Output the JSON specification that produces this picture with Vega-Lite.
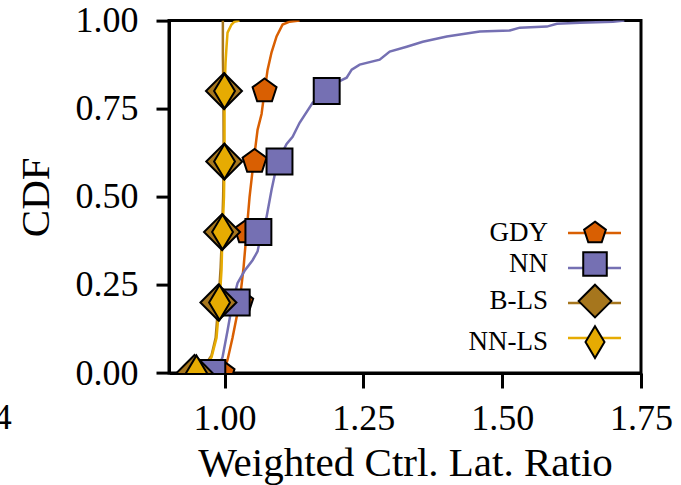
{
  "$schema": "https://vega.github.io/schema/vega-lite/v6.json",
  "width": 472,
  "height": 352.4,
  "autosize": {"type": "none"},
  "padding": {"left": 169, "top": 20.6, "right": 40, "bottom": 112},
  "background": "white",
  "config": {
    "font": "Liberation Serif",
    "view": {"stroke": "black", "strokeWidth": 3},
    "axis": {
      "grid": false,
      "domainColor": "black",
      "domainWidth": 3,
      "tickColor": "black",
      "tickWidth": 3,
      "labelColor": "black",
      "labelFont": "Liberation Serif",
      "labelFontSize": 36,
      "titleFont": "Liberation Serif",
      "titleFontSize": 41,
      "titleFontWeight": "normal",
      "titleColor": "black",
      "labelFlush": false
    },
    "legend": {
      "labelFont": "Liberation Serif",
      "labelColor": "black"
    }
  },
  "layer": [
    {
      "data": {
        "values": [
          {"series": "GDY", "v": 0.9964, "cdf": 0},
          {"series": "GDY", "v": 1.0054, "cdf": 0.037},
          {"series": "GDY", "v": 1.0144, "cdf": 0.10},
          {"series": "GDY", "v": 1.0270, "cdf": 0.20},
          {"series": "GDY", "v": 1.0343, "cdf": 0.30},
          {"series": "GDY", "v": 1.0397, "cdf": 0.40},
          {"series": "GDY", "v": 1.0451, "cdf": 0.50},
          {"series": "GDY", "v": 1.0523, "cdf": 0.60},
          {"series": "GDY", "v": 1.0595, "cdf": 0.69},
          {"series": "GDY", "v": 1.0667, "cdf": 0.735},
          {"series": "GDY", "v": 1.0721, "cdf": 0.80},
          {"series": "GDY", "v": 1.0775, "cdf": 0.86},
          {"series": "GDY", "v": 1.0847, "cdf": 0.91},
          {"series": "GDY", "v": 1.0937, "cdf": 0.955},
          {"series": "GDY", "v": 1.1046, "cdf": 0.989},
          {"series": "GDY", "v": 1.1172, "cdf": 0.997},
          {"series": "GDY", "v": 1.1352, "cdf": 1.0},

          {"series": "NN", "v": 0.978, "cdf": 0},
          {"series": "NN", "v": 0.986, "cdf": 0.01},
          {"series": "NN", "v": 0.991, "cdf": 0.025},
          {"series": "NN", "v": 0.9964, "cdf": 0.045},
          {"series": "NN", "v": 1.0054, "cdf": 0.12},
          {"series": "NN", "v": 1.0144, "cdf": 0.20},
          {"series": "NN", "v": 1.0234, "cdf": 0.255},
          {"series": "NN", "v": 1.0361, "cdf": 0.29},
          {"series": "NN", "v": 1.0505, "cdf": 0.32},
          {"series": "NN", "v": 1.0595, "cdf": 0.345},
          {"series": "NN", "v": 1.0667, "cdf": 0.40},
          {"series": "NN", "v": 1.0757, "cdf": 0.443},
          {"series": "NN", "v": 1.0847, "cdf": 0.52},
          {"series": "NN", "v": 1.0955, "cdf": 0.60},
          {"series": "NN", "v": 1.1118, "cdf": 0.65},
          {"series": "NN", "v": 1.1226, "cdf": 0.67},
          {"series": "NN", "v": 1.1352, "cdf": 0.71},
          {"series": "NN", "v": 1.1586, "cdf": 0.767},
          {"series": "NN", "v": 1.1713, "cdf": 0.784},
          {"series": "NN", "v": 1.1839, "cdf": 0.80},
          {"series": "NN", "v": 1.2055, "cdf": 0.827},
          {"series": "NN", "v": 1.2199, "cdf": 0.838},
          {"series": "NN", "v": 1.2290, "cdf": 0.861},
          {"series": "NN", "v": 1.2434, "cdf": 0.875},
          {"series": "NN", "v": 1.2794, "cdf": 0.889},
          {"series": "NN", "v": 1.2975, "cdf": 0.912},
          {"series": "NN", "v": 1.3281, "cdf": 0.926},
          {"series": "NN", "v": 1.3570, "cdf": 0.94},
          {"series": "NN", "v": 1.4002, "cdf": 0.955},
          {"series": "NN", "v": 1.4597, "cdf": 0.969},
          {"series": "NN", "v": 1.5138, "cdf": 0.972},
          {"series": "NN", "v": 1.5318, "cdf": 0.98},
          {"series": "NN", "v": 1.5805, "cdf": 0.983},
          {"series": "NN", "v": 1.5985, "cdf": 0.991},
          {"series": "NN", "v": 1.6400, "cdf": 0.994},
          {"series": "NN", "v": 1.6995, "cdf": 0.997},
          {"series": "NN", "v": 1.7200, "cdf": 1.0},

          {"series": "B-LS", "v": 0.946, "cdf": 0},
          {"series": "B-LS", "v": 0.964, "cdf": 0.02},
          {"series": "B-LS", "v": 0.9766, "cdf": 0.05},
          {"series": "B-LS", "v": 0.984, "cdf": 0.10},
          {"series": "B-LS", "v": 0.989, "cdf": 0.20},
          {"series": "B-LS", "v": 0.993, "cdf": 0.30},
          {"series": "B-LS", "v": 0.9955, "cdf": 0.40},
          {"series": "B-LS", "v": 0.9975, "cdf": 0.50},
          {"series": "B-LS", "v": 0.9985, "cdf": 0.60},
          {"series": "B-LS", "v": 0.998, "cdf": 0.80},
          {"series": "B-LS", "v": 0.997, "cdf": 0.90},
          {"series": "B-LS", "v": 0.997, "cdf": 1.0},

          {"series": "NN-LS", "v": 0.9495, "cdf": 0},
          {"series": "NN-LS", "v": 0.9675, "cdf": 0.023},
          {"series": "NN-LS", "v": 0.9766, "cdf": 0.045},
          {"series": "NN-LS", "v": 0.9856, "cdf": 0.10},
          {"series": "NN-LS", "v": 0.991, "cdf": 0.20},
          {"series": "NN-LS", "v": 0.9946, "cdf": 0.293},
          {"series": "NN-LS", "v": 0.9964, "cdf": 0.40},
          {"series": "NN-LS", "v": 0.9990, "cdf": 0.50},
          {"series": "NN-LS", "v": 1.0, "cdf": 0.60},
          {"series": "NN-LS", "v": 1.0, "cdf": 0.80},
          {"series": "NN-LS", "v": 1.0018, "cdf": 0.88},
          {"series": "NN-LS", "v": 1.0036, "cdf": 0.926},
          {"series": "NN-LS", "v": 1.0054, "cdf": 0.966},
          {"series": "NN-LS", "v": 1.0126, "cdf": 0.989},
          {"series": "NN-LS", "v": 1.018, "cdf": 0.997},
          {"series": "NN-LS", "v": 1.027, "cdf": 1.0}
        ]
      },
      "mark": {"type": "line", "strokeWidth": 2.5, "clip": true},
      "encoding": {
        "x": {
          "field": "v", "type": "quantitative",
          "scale": {"domain": [0.9, 1.75], "nice": false, "zero": false},
          "axis": {
            "values": [1.0, 1.25, 1.5, 1.75],
            "format": ".2f",
            "title": "Weighted Ctrl. Lat. Ratio",
            "tickSize": 15,
            "labelPadding": 13,
            "titlePadding": 7
          }
        },
        "y": {
          "field": "cdf", "type": "quantitative",
          "scale": {"domain": [0, 1], "nice": false},
          "axis": {
            "values": [0, 0.25, 0.5, 0.75, 1.0],
            "format": ".2f",
            "title": "CDF",
            "tickSize": 13,
            "labelPadding": 18,
            "titlePadding": 18
          }
        },
        "order": {"field": "cdf", "type": "quantitative"},
        "stroke": {
          "field": "series", "type": "nominal",
          "scale": {"domain": ["GDY", "NN", "B-LS", "NN-LS"], "range": ["#d95f02", "#7570b3", "#a6761d", "#e6ab02"]},
          "legend": {
            "orient": "none",
            "legendX": 397.5,
            "legendY": 195,
            "title": null,
            "symbolType": "stroke",
            "symbolSize": 2809,
            "symbolStrokeWidth": 2.5,
            "clipHeight": 35,
            "rowPadding": 0,
            "padding": 0,
            "labelOpacity": 0
          }
        }
      }
    },
    {
      "data": {
        "values": [
          {"name": "GDY", "v": 0.9964, "cdf": 0},
          {"name": "GDY", "v": 1.0300, "cdf": 0.2},
          {"name": "GDY", "v": 1.0397, "cdf": 0.4},
          {"name": "GDY", "v": 1.0541, "cdf": 0.6},
          {"name": "GDY", "v": 1.0721, "cdf": 0.8},
          {"name": "NN", "v": 0.978, "cdf": 0},
          {"name": "NN", "v": 1.022, "cdf": 0.2},
          {"name": "NN", "v": 1.061, "cdf": 0.4},
          {"name": "NN", "v": 1.099, "cdf": 0.6},
          {"name": "NN", "v": 1.184, "cdf": 0.8},
          {"name": "B-LS", "v": 0.946, "cdf": 0},
          {"name": "B-LS", "v": 0.989, "cdf": 0.2},
          {"name": "B-LS", "v": 0.9955, "cdf": 0.4},
          {"name": "B-LS", "v": 0.9995, "cdf": 0.6},
          {"name": "B-LS", "v": 0.999, "cdf": 0.8},
          {"name": "NN-LS", "v": 0.9495, "cdf": 0},
          {"name": "NN-LS", "v": 0.991, "cdf": 0.2},
          {"name": "NN-LS", "v": 0.9964, "cdf": 0.4},
          {"name": "NN-LS", "v": 1.0, "cdf": 0.6},
          {"name": "NN-LS", "v": 1.0, "cdf": 0.8}
        ]
      },
      "mark": {"type": "point", "filled": true, "stroke": "black", "strokeWidth": 2, "size": 1296, "opacity": 1, "clip": true},
      "encoding": {
        "x": {"field": "v", "type": "quantitative"},
        "y": {"field": "cdf", "type": "quantitative"},
        "fill": {
          "field": "name", "type": "nominal",
          "scale": {"domain": ["NN-LS", "B-LS", "NN", "GDY"], "range": ["#e6ab02", "#a6761d", "#7570b3", "#d95f02"]},
          "legend": {
            "orient": "none",
            "legendX": 408.5,
            "legendY": 195,
            "title": null,
            "values": ["GDY", "NN", "B-LS", "NN-LS"],
            "symbolSize": 1069,
            "symbolStrokeColor": "black",
            "symbolStrokeWidth": 2,
            "symbolOpacity": 1,
            "rowPadding": 0,
            "padding": 0,
            "labelAlign": "right",
            "labelOffset": -64.5,
            "labelFontSize": 27
          }
        },
        "shape": {
          "field": "name", "type": "nominal",
          "scale": {
            "domain": ["NN-LS", "B-LS", "NN", "GDY"],
            "range": [
              "M0,-0.97L0.58,0L0,0.97L-0.58,0Z",
              "M0,-1L1,0L0,1L-1,0Z",
              "M-0.72,-0.72L0.72,-0.72L0.72,0.72L-0.72,0.72Z",
              "M0,-0.7L0.666,-0.216L0.411,0.566L-0.411,0.566L-0.666,-0.216Z"
            ]
          }
        }
      }
    },
    {
      "data": {"values": [{"v": 0.617, "cdf": -0.0795, "t": "4"}]},
      "mark": {"type": "text", "align": "right", "baseline": "top", "fontSize": 36, "font": "Liberation Serif", "color": "black", "clip": false},
      "encoding": {
        "x": {"field": "v", "type": "quantitative"},
        "y": {"field": "cdf", "type": "quantitative"},
        "text": {"field": "t"}
      }
    }
  ]
}
